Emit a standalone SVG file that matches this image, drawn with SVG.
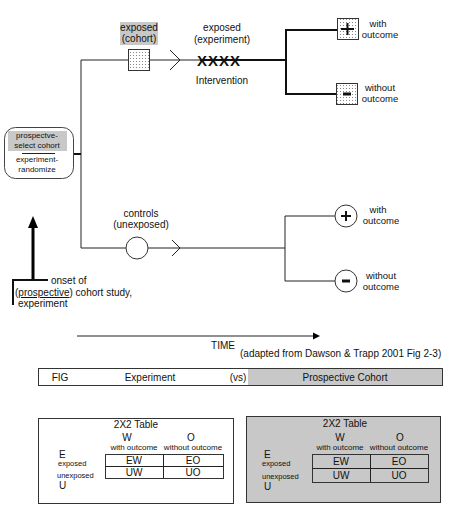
<svg xmlns="http://www.w3.org/2000/svg" width="450" height="509" viewBox="0 0 450 509">
<defs>
<pattern id="dots" width="3" height="3" patternUnits="userSpaceOnUse">
<rect width="3" height="3" fill="#fff"/>
<rect x="1" y="1" width="1" height="1" fill="#888"/>
</pattern>
</defs>
<style>
text{font-family:"Liberation Sans",Arial,sans-serif;fill:#111}
.t10{font-size:10px}
.t9{font-size:9.5px}
.t8{font-size:8px}
.t7{font-size:7.5px}
.c{text-anchor:middle}
.ln{stroke:#222;stroke-width:1;fill:none}
.th{stroke:#111;stroke-width:2;fill:none}
.sym{stroke:#111;stroke-width:2;fill:none}
.box{fill:url(#dots);stroke:#333;stroke-width:1}
.gray{fill:#c8c8c8}
</style>
<rect width="450" height="509" fill="#fff"/>

<g id="connectors">
<path class="ln" d="M81,60 V248"/>
<path class="th" d="M73,154 H81"/>
<path class="ln" d="M81,60 H128"/>
<path class="ln" d="M150,60 H200"/>
<path class="th" d="M200,60 H286"/>
<path class="th" d="M286,30 V94 M285,30 H337 M285,94 H336"/>
<polyline class="ln" points="170,50 180,60 170,70"/>
<path class="ln" d="M81,248 H126 M148,248 H285 M285,216 V281 M285,216 H335 M285,281 H335"/>
<polyline class="ln" points="172,240 180,248 172,256"/>
</g>

<g id="node-start">
<rect x="4.5" y="127.5" width="69" height="51" rx="11" fill="#fff" stroke="#444"/>
<rect x="8" y="131" width="59" height="20" class="gray"/>
<text class="t8 c" x="37" y="138">prospectve-</text>
<text class="t8 c" x="37" y="148">select cohort</text>
<path class="ln" d="M22,153.5 H55"/>
<text class="t8 c" x="37" y="162">experiment-</text>
<text class="t8 c" x="37" y="172">randomize</text>
</g>

<g id="node-exposed-cohort">
<rect x="120" y="22" width="38" height="23" class="gray"/>
<text class="t10 c" x="139" y="31">exposed</text>
<text class="t10 c" x="139" y="42">(cohort)</text>
<rect x="128.5" y="49.5" width="21" height="21" class="box"/>
</g>

<g id="node-intervention">
<text class="t10 c" x="222" y="31">exposed</text>
<text class="t10 c" x="222" y="43">(experiment)</text>
<text x="197" y="65.5" style="font-size:15px;font-weight:bold;letter-spacing:1px">XXXX</text>
<text class="t10 c" x="222" y="84">Intervention</text>
</g>

<g id="node-exp-with">
<rect x="337.5" y="18.5" width="21" height="21" class="box"/>
<path class="sym" d="M341,29 H354 M347.5,23 V35"/>
<text class="t9 c" x="378" y="27">with</text>
<text class="t9 c" x="380" y="38">outcome</text>
</g>

<g id="node-exp-without">
<rect x="336.5" y="83.5" width="21" height="21" class="box"/>
<path d="M343,94 H351" stroke="#111" stroke-width="3"/>
<text class="t9 c" x="380" y="91">without</text>
<text class="t9 c" x="380" y="102">outcome</text>
</g>

<g id="node-controls">
<text class="t10 c" x="141" y="217">controls</text>
<text class="t10 c" x="141" y="228">(unexposed)</text>
<circle cx="137" cy="248" r="11" fill="#fff" stroke="#333"/>
</g>

<g id="node-ctl-with">
<circle cx="346" cy="216" r="11" fill="#fff" stroke="#333"/>
<path class="sym" d="M341,216 H351 M346,211 V221"/>
<text class="t9 c" x="378" y="213">with</text>
<text class="t9 c" x="381" y="224">outcome</text>
</g>

<g id="node-ctl-without">
<circle cx="346" cy="281" r="11" fill="#fff" stroke="#333"/>
<path d="M342,281 H350" stroke="#111" stroke-width="3"/>
<text class="t9 c" x="381" y="279">without</text>
<text class="t9 c" x="381" y="290">outcome</text>
</g>

<g id="node-onset">
<path d="M33,280 V226" stroke="#000" stroke-width="3"/>
<polygon points="33,216 28,228 38,228" fill="#000"/>
<path class="th" d="M12,280 H48 M13,279 V305"/>
<text class="t10" x="51" y="284">onset of</text>
<text class="t10" x="15" y="296">(<tspan text-decoration="underline">prospective</tspan>) cohort study,</text>
<text class="t10" x="18" y="307">experiment</text>
</g>

<g id="node-time">
<path class="ln" d="M77,336 H314"/>
<polygon points="313,332.5 320,336 313,339.5" fill="#000"/>
<text class="t10 c" x="223" y="349">TIME</text>
<text class="t10" x="240" y="357">(adapted from Dawson &amp; Trapp 2001 Fig 2-3)</text>
</g>

<g id="node-fig">
<rect x="248" y="368" width="195" height="18" class="gray"/>
<rect x="38.5" y="368.5" width="404" height="17" fill="none" stroke="#333"/>
<text class="t10 c" x="60" y="381">FIG</text>
<text class="t10 c" x="150" y="381">Experiment</text>
<text class="t10 c" x="238" y="381">(vs)</text>
<text class="t10 c" x="345" y="381">Prospective Cohort</text>
</g>

<g id="node-table-left">
<rect x="38.5" y="418.5" width="195" height="85" fill="#fff" stroke="#333"/>
<text class="t10 c" x="136" y="428">2X2 Table</text>
<text class="t10 c" x="127" y="441">W</text>
<text class="t8 c" x="134" y="450">with outcome</text>
<text class="t10 c" x="191" y="441">O</text>
<text class="t8 c" x="193" y="450">without outcome</text>
<text class="t10" x="59" y="458">E</text>
<text class="t7" x="58" y="466">exposed</text>
<text class="t7" x="57" y="478">unexposed</text>
<text class="t10" x="59" y="489">U</text>
<rect x="105.5" y="454.5" width="118" height="24" fill="none" stroke="#333"/>
<path class="ln" d="M105,466.5 H223 M163.5,454 V478"/>
<text class="t10 c" x="134" y="464">EW</text>
<text class="t10 c" x="193" y="464">EO</text>
<text class="t10 c" x="134" y="476">UW</text>
<text class="t10 c" x="193" y="476">UO</text>
</g>

<g id="node-table-right">
<rect x="246.5" y="416.5" width="194" height="86" fill="#c8c8c8" stroke="#333"/>
<text class="t10 c" x="345" y="427">2X2 Table</text>
<text class="t10 c" x="340" y="441">W</text>
<text class="t8 c" x="340" y="450">with outcome</text>
<text class="t10 c" x="400" y="441">O</text>
<text class="t8 c" x="399" y="450">without outcome</text>
<text class="t10" x="264" y="458">E</text>
<text class="t7" x="262" y="466">exposed</text>
<text class="t7" x="262" y="479">unexposed</text>
<text class="t10" x="264" y="490">U</text>
<rect x="312.5" y="454.5" width="116" height="28" fill="none" stroke="#333"/>
<path class="ln" d="M312,468.5 H428 M370.5,454 V482"/>
<text class="t10 c" x="341" y="465">EW</text>
<text class="t10 c" x="399" y="465">EO</text>
<text class="t10 c" x="341" y="479">UW</text>
<text class="t10 c" x="399" y="479">UO</text>
</g>
</svg>
